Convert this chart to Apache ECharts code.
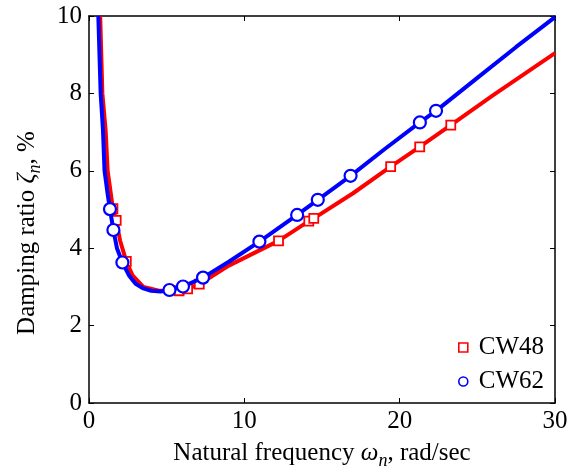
<!DOCTYPE html>
<html>
<head>
<meta charset="utf-8">
<title>Damping ratio</title>
<script src="https://cdn.jsdelivr.net/npm/echarts@6/dist/echarts.min.js"></script>
<style>
  html, body { margin: 0; padding: 0; background: #fff; }
  #chart { width: 567px; height: 471px; }
</style>
</head>
<body>
<div id="chart"></div>
<script>
// curves (x = rad/sec, y = %)
var cw48Curve = [
  [0.72, 10.0], [0.86, 8.0], [1.07, 7.05], [1.2, 6.0], [1.54, 5.02], [1.75, 4.72],
  [2.0, 4.2], [2.4, 3.66], [2.8, 3.3], [3.5, 3.0], [4.5, 2.9], [5.8, 2.9],
  [6.35, 2.95], [7.1, 3.07], [9.0, 3.55], [12.2, 4.19], [14.15, 4.70], [14.47, 4.77],
  [17.0, 5.42], [19.42, 6.11], [21.29, 6.62], [23.29, 7.18], [26.0, 7.95], [30.0, 9.04]
];
var cw48Points = [
  [1.54, 5.02], [1.75, 4.72], [2.4, 3.66], [5.8, 2.9], [6.35, 2.95], [7.1, 3.07],
  [12.2, 4.19], [14.15, 4.70], [14.47, 4.77], [19.42, 6.11], [21.29, 6.62], [23.29, 7.18]
];
var cw62Curve = [
  [0.6, 10.0], [0.75, 8.0], [0.9, 7.05], [1.0, 6.0], [1.2, 5.4], [1.35, 5.01],
  [1.57, 4.47], [1.8, 4.0], [2.15, 3.63], [2.6, 3.28], [3.0, 3.08], [3.5, 2.96],
  [4.0, 2.9], [4.6, 2.88], [5.18, 2.92], [6.05, 3.01], [7.34, 3.24], [9.0, 3.65],
  [10.97, 4.17], [13.4, 4.86], [14.73, 5.25], [16.84, 5.87], [19.0, 6.55],
  [21.3, 7.25], [22.34, 7.55], [25.0, 8.4], [27.5, 9.2], [30.0, 9.97]
];
var cw62Points = [
  [1.35, 5.01], [1.57, 4.47], [2.15, 3.63], [5.18, 2.92], [6.05, 3.01], [7.34, 3.24],
  [10.97, 4.17], [13.4, 4.86], [14.73, 5.25], [16.84, 5.87], [21.3, 7.25], [22.34, 7.55]
];
var xTicks = [0, 10, 20, 30];
var yTicks = [0, 2, 4, 6, 8, 10];

var font = '"Liberation Serif", "Times New Roman", serif';
var fs = 25;

function boxAxis(extra) {
  var a = {
    axisLine: { show: true, onZero: false, lineStyle: { color: '#000', width: 1.5 } },
    axisTick: { show: true, inside: true, length: 5, lineStyle: { color: '#000', width: 1 } },
    splitLine: { show: false },
    axisLabel: { show: false }
  };
  for (var k in extra) a[k] = extra[k];
  return a;
}

var option = {
  animation: false,
  backgroundColor: '#fff',
  textStyle: { fontFamily: font },
  grid: { left: 89, right: 12, top: 16, bottom: 68, containLabel: false, outerBoundsMode: 'none' },
  xAxis: [
    boxAxis({
      type: 'value', min: 0, max: 30, interval: 10, position: 'bottom',
      axisLabel: {
        show: true, color: '#000', fontFamily: font, fontSize: fs, margin: 6,
        formatter: function (v) { return xTicks.indexOf(v) >= 0 ? String(v) : ''; }
      },
      name: '{t|Natural frequency }{i|ω}{s|n}{t|, rad/sec}',
      nameLocation: 'middle', nameGap: 33,
      nameTextStyle: {
        rich: {
          t: { fontFamily: font, fontSize: fs, color: '#000' },
          i: { fontFamily: font, fontSize: fs, fontStyle: 'italic', color: '#000' },
          s: { fontFamily: font, fontSize: 18, fontStyle: 'italic', color: '#000', padding: [16, 0, 0, 0] }
        }
      }
    }),
    boxAxis({ type: 'value', min: 0, max: 30, interval: 10, position: 'top' })
  ],
  yAxis: [
    boxAxis({
      type: 'value', min: 0, max: 10, interval: 2, position: 'left',
      axisLabel: {
        show: true, color: '#000', fontFamily: font, fontSize: fs, margin: 7,
        formatter: function (v) { return yTicks.indexOf(v) >= 0 ? String(v) : ''; }
      }
    }),
    boxAxis({ type: 'value', min: 0, max: 10, interval: 2, position: 'right' })
  ],
  legend: {
    orient: 'vertical',
    left: 453, top: 330,
    itemWidth: 9, itemHeight: 9, itemGap: 9,
    data: [
      { name: 'CW48', icon: 'rect', itemStyle: { color: '#fff', borderColor: '#ff0000', borderWidth: 1.6 } },
      { name: 'CW62', icon: 'circle', itemStyle: { color: '#fff', borderColor: '#0000ff', borderWidth: 1.6 } }
    ],
    textStyle: { fontFamily: font, fontSize: fs, color: '#000', lineHeight: 25, padding: [0, 0, 0, 6] }
  },
  graphic: [{
    type: 'text',
    x: 27, y: 233,
    rotation: Math.PI / 2,
    style: {
      text: '{t|Damping ratio }{i|ζ}{s|n}{t|, %}',
      align: 'center', verticalAlign: 'middle',
      rich: {
        t: { fontFamily: font, fontSize: fs, fill: '#000' },
        i: { fontFamily: font, fontSize: fs, fontStyle: 'italic', fill: '#000' },
        s: { fontFamily: font, fontSize: 18, fontStyle: 'italic', fill: '#000', padding: [16, 0, 0, 0] }
      }
    }
  }],
  series: [
    {
      name: 'CW48 curve', type: 'line', data: cw48Curve, showSymbol: false, symbol: 'none',
      lineStyle: { color: '#ff0000', width: 4 }, z: 2
    },
    {
      name: 'CW48', type: 'scatter', data: cw48Points, symbol: 'rect', symbolSize: 9,
      itemStyle: { color: '#fff', borderColor: '#ff0000', borderWidth: 1.8, opacity: 1 }, z: 3
    },
    {
      name: 'CW62 curve', type: 'line', data: cw62Curve, showSymbol: false, symbol: 'none',
      lineStyle: { color: '#0000ff', width: 4 }, z: 4
    },
    {
      name: 'CW62', type: 'scatter', data: cw62Points, symbol: 'circle', symbolSize: 12,
      itemStyle: { color: '#fff', borderColor: '#0000ff', borderWidth: 2.2, opacity: 1 }, z: 5
    }
  ]
};

var chart = echarts.init(document.getElementById('chart'));
chart.setOption(option);
</script>
</body>
</html>
